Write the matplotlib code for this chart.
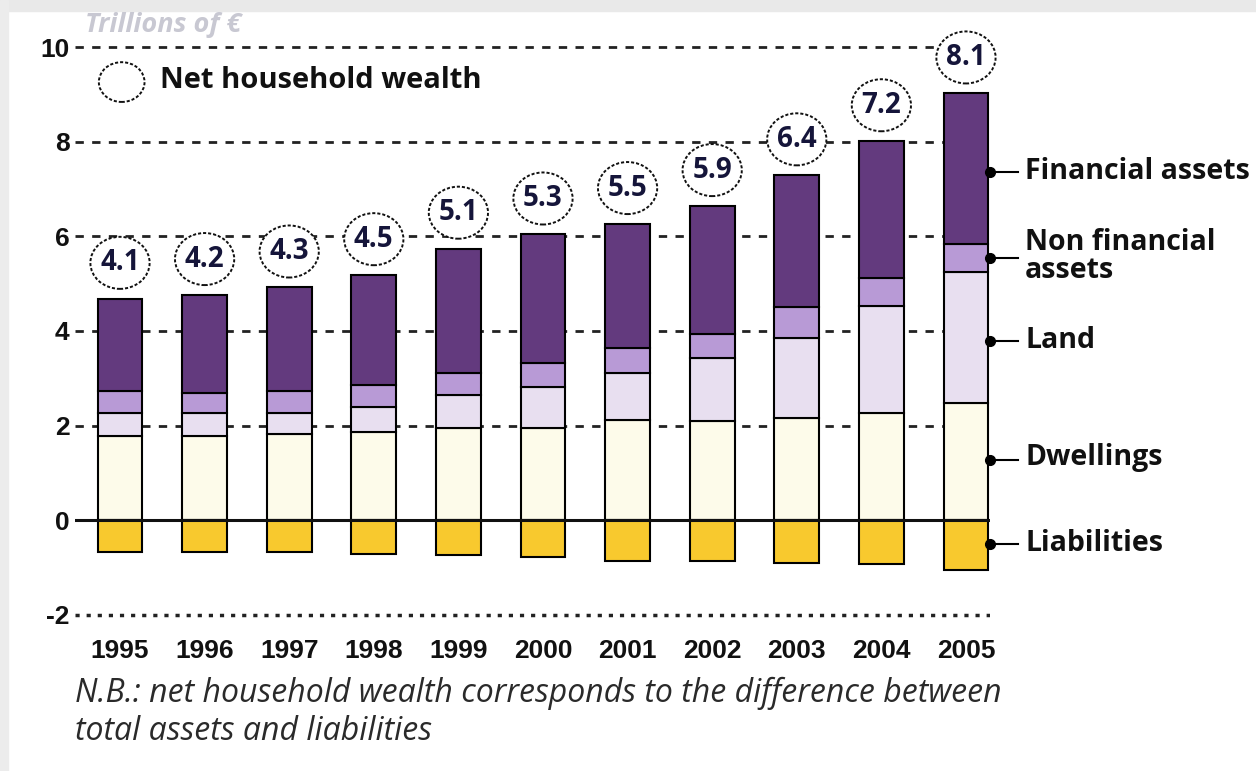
import matplotlib.pyplot as plt
from matplotlib.patches import Ellipse, Rectangle

# data (trillions of euros)
years = ['1995', '1996', '1997', '1998', '1999', '2000', '2001', '2002', '2003', '2004', '2005']
dwellings = [1.79, 1.79, 1.83, 1.87, 1.96, 1.96, 2.13, 2.10, 2.17, 2.26, 2.48]
land = [0.47, 0.47, 0.43, 0.53, 0.69, 0.86, 0.99, 1.33, 1.68, 2.27, 2.77]
non_financial = [0.47, 0.44, 0.47, 0.46, 0.47, 0.51, 0.52, 0.50, 0.65, 0.60, 0.58]
financial = [1.95, 2.06, 2.19, 2.32, 2.62, 2.71, 2.62, 2.71, 2.79, 2.88, 3.19]
liabilities = [-0.66, -0.66, -0.66, -0.71, -0.74, -0.78, -0.85, -0.85, -0.90, -0.92, -1.04]
net_wealth = [4.1, 4.2, 4.3, 4.5, 5.1, 5.3, 5.5, 5.9, 6.4, 7.2, 8.1]

# labels on the right side of the last bar
side_labels = ['Financial assets', 'Non financial\nassets', 'Land', 'Dwellings', 'Liabilities']
side_label_y = [7.37, 5.58, 3.79, 1.33, -0.49]
side_pointer_y = [7.37, 5.55, 3.79, 1.27, -0.51]

W, H = 1256, 771
fig = plt.figure(figsize=(W / 100, H / 100), dpi=100)
fig.patch.set_facecolor('white')
# light grey frame at top and left
fig.patches.append(Rectangle((0, 1 - 11 / H), 1, 11 / H, transform=fig.transFigure, color='#e9e9e9', zorder=0))
fig.patches.append(Rectangle((0, 0), 8 / W, 1, transform=fig.transFigure, color='#ececec', zorder=0))

ax = fig.add_axes([75 / W, 1 - 619.7 / H, (990 - 75) / W, (619.7 - 42.3) / H])
ax.set_xlim(-0.532, 10.284)
ax.set_ylim(-2.1, 10.1)

x = list(range(len(years)))
bw = 0.53

# grid lines
for g in [2, 4, 6, 8, 10]:
    ax.axhline(g, color='#222222', lw=2, ls=(0, (3, 3)), zorder=0)
ax.axhline(-2, color='#222222', lw=2.5, ls=(0, (1.2, 2)), zorder=0)

# stacked bars
b1 = dwellings
b2 = [a + b for a, b in zip(b1, land)]
b3 = [a + b for a, b in zip(b2, non_financial)]
tops = [a + b for a, b in zip(b3, financial)]
ax.bar(x, dwellings, bw, color='#fdfbea', edgecolor='black', lw=1.5, zorder=2)
ax.bar(x, land, bw, bottom=b1, color='#e8dff0', edgecolor='black', lw=1.5, zorder=2)
ax.bar(x, non_financial, bw, bottom=b2, color='#b89ad6', edgecolor='black', lw=1.5, zorder=2)
ax.bar(x, financial, bw, bottom=b3, color='#633a7e', edgecolor='black', lw=1.5, zorder=2)
ax.bar(x, liabilities, bw, color='#f8c92e', edgecolor='black', lw=1.5, zorder=2)
ax.axhline(0, color='#111111', lw=2.2, zorder=3)

# net wealth circles
for i, v in enumerate(net_wealth):
    cy = tops[i] + 0.76
    ax.add_patch(Ellipse((i, cy), 0.70, 1.10, facecolor='white', edgecolor='#111111',
                         ls=(0, (1.6, 1.0)), lw=1.4, zorder=4, clip_on=False))
    ax.text(i, cy, str(v), ha='center', va='center', fontsize=20, fontweight='bold',
            family='Open Sans', color='#15153a', zorder=5, clip_on=False)

# legend
ax.add_patch(Ellipse((0.02, 9.26), 0.54, 0.84, facecolor='white', edgecolor='#111111',
                     ls=(0, (1.6, 1.0)), lw=1.4, zorder=4))
ax.text(0.47, 9.30, 'Net household wealth', ha='left', va='center', fontsize=21,
        fontweight='bold', family='Open Sans', color='#111111')

# side labels with pointers
for lab, ly, py in zip(side_labels, side_label_y, side_pointer_y):
    ax.plot([10.265, 10.61], [py, py], color='black', lw=1.5, clip_on=False, zorder=5)
    ax.plot(10.28, py, marker='o', ms=7, color='black', clip_on=False, zorder=5)
    ax.text(10.70, ly, lab, ha='left', va='center', fontsize=20.5, fontweight='bold',
            family='Open Sans', color='#111111', linespacing=0.95, clip_on=False)

# axes styling
for s in ax.spines.values():
    s.set_visible(False)
ax.set_yticks([-2, 0, 2, 4, 6, 8, 10])
ax.set_yticklabels(['-2', '0', '2', '4', '6', '8', '10'], fontsize=19, fontweight='bold',
                   family='Liberation Sans')
ax.set_xticks(x)
ax.set_xticklabels(years, fontsize=19, fontweight='bold', family='Liberation Sans')
ax.tick_params(axis='y', length=0, pad=4, colors='#111111')
ax.tick_params(axis='x', length=0, pad=14, colors='#111111')

# texts outside the axes
fig.text(85 / W, 1 - 25 / H, 'Trillions of €', ha='left', va='center', fontsize=19.5,
         style='italic', fontweight='bold', family='Open Sans', color='#c8c8d2')
fig.text(75 / W, 1 - 693 / H, 'N.B.: net household wealth corresponds to the difference between',
         ha='left', va='center', fontsize=23, style='italic', family='Open Sans', color='#2a2a2a')
fig.text(75 / W, 1 - 731 / H, 'total assets and liabilities',
         ha='left', va='center', fontsize=23, style='italic', family='Open Sans', color='#2a2a2a')

fig.savefig('out.png', dpi=100)
